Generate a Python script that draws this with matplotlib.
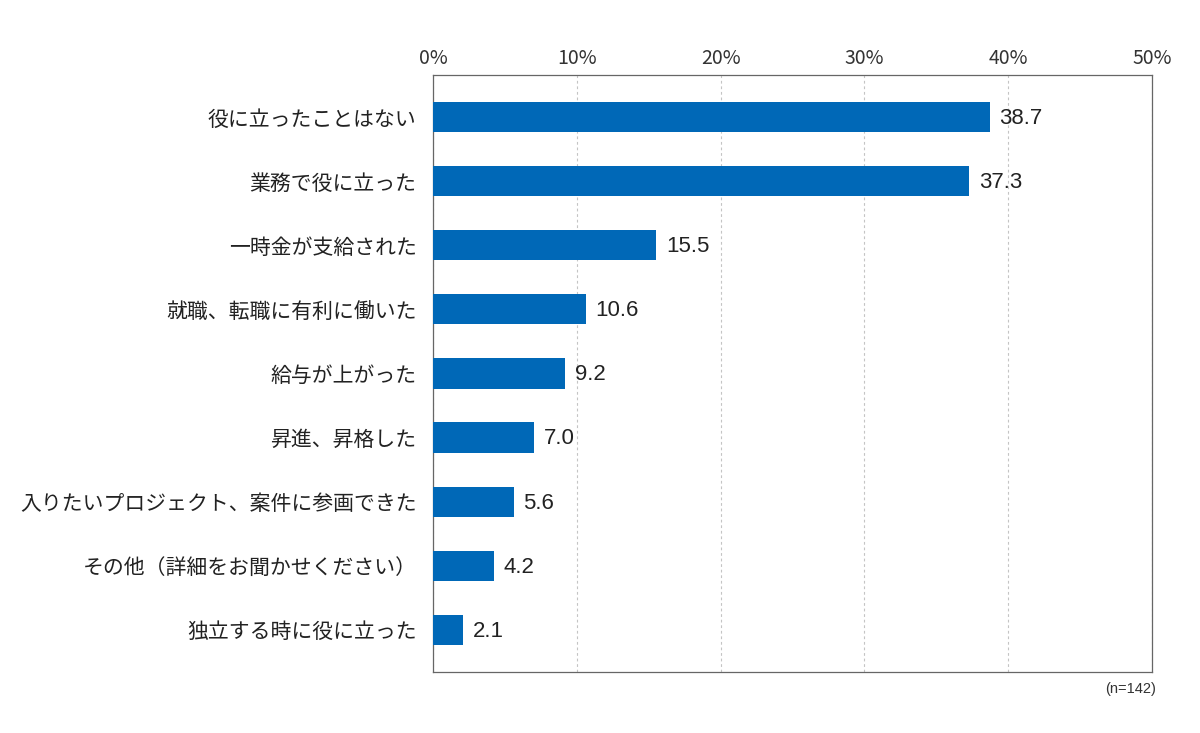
import matplotlib.pyplot as plt

plt.rcParams['font.family'] = ['Noto Sans CJK JP', 'DejaVu Sans']

# データ
labels = ['役に立ったことはない', '業務で役に立った', '一時金が支給された',
          '就職、転職に有利に働いた', '給与が上がった', '昇進、昇格した',
          '入りたいプロジェクト、案件に参画できた', 'その他（詳細をお聞かせください）',
          '独立する時に役に立った']
values = [38.7, 37.3, 15.5, 10.6, 9.2, 7.0, 5.6, 4.2, 2.1]
ticks = [0, 10, 20, 30, 40, 50]
tick_labels = ['0%', '10%', '20%', '30%', '40%', '50%']

fig = plt.figure(figsize=(12, 7.33), dpi=100)
ax = fig.add_axes([0.361, 0.083, 0.599, 0.815])

y = list(range(len(labels)))
ax.barh(y, values, height=0.47, color='#0068B7', zorder=3)

for yi, v in zip(y, values):
    ax.annotate(f'{v:.1f}', (v, yi), xytext=(7, -1), textcoords='offset points',
                va='center', ha='left', fontsize=16, color='#222222',
                family=['Liberation Sans', 'DejaVu Sans'])

ax.set_xlim(0, 50)
ax.set_ylim(len(labels) - 0.34, -0.66)
ax.set_yticks(y)
ax.set_yticklabels(labels, fontsize=15, color='#222222')
ax.set_xticks(ticks)
ax.set_xticklabels(tick_labels, fontsize=14, color='#333333')
ax.xaxis.tick_top()
ax.tick_params(axis='x', length=0, pad=4)
ax.tick_params(axis='y', length=0, pad=12)

ax.grid(axis='x', linestyle=(0, (2.5, 2.5)), color='#c4c4c4', linewidth=0.8, zorder=0)
for s in ax.spines.values():
    s.set_color('#666666')
    s.set_linewidth(0.9)

fig.text(0.963, 0.06, '(n=142)', ha='right', va='center', fontsize=10.5, color='#333333',
         family=['Liberation Sans', 'DejaVu Sans'])

fig.savefig('out.png', dpi=100)
